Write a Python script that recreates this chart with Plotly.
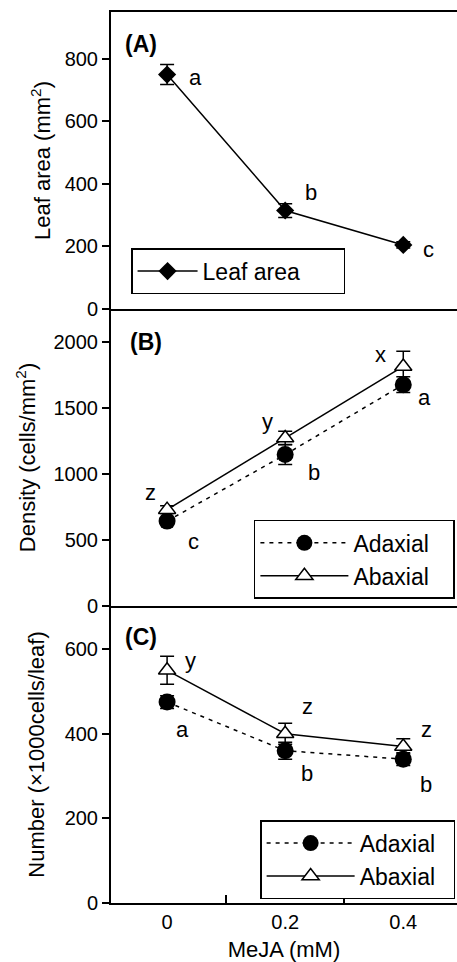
import plotly.graph_objects as go
from plotly.subplots import make_subplots

# ---- data ----
meja = [0, 0.2, 0.4]
x_ticklabels = ["0", "0.2", "0.4"]

leaf_area = [750, 315, 205]
leaf_area_err = [32, 22, 10]
leaf_letters = ["a", "b", "c"]

dens_adaxial = [643, 1147, 1677]
dens_adaxial_err = [25, 75, 60]
dens_abaxial = [730, 1273, 1815]
dens_abaxial_err = [30, 50, 115]
dens_adaxial_letters = ["c", "b", "a"]
dens_abaxial_letters = ["z", "y", "x"]

num_adaxial = [475, 360, 340]
num_adaxial_err = [15, 20, 15]
num_abaxial = [550, 400, 370]
num_abaxial_err = [33, 25, 18]
num_adaxial_letters = ["a", "b", "b"]
num_abaxial_letters = ["y", "z", "z"]

FONT = "Liberation Sans, Arial, Helvetica, sans-serif"
BLACK = "black"
NB = "\u00a0"  # trailing padding inside legend boxes

fig = make_subplots(rows=3, cols=1, shared_xaxes=True, vertical_spacing=0)

def err(vals):
    return dict(type="data", array=vals, visible=True, color=BLACK, thickness=1.5, width=7)

# Panel A
fig.add_trace(go.Scatter(x=meja, y=leaf_area, name="Leaf area" + NB * 6, mode="lines+markers",
                         line=dict(color=BLACK, width=1.5),
                         marker=dict(symbol="diamond", size=14, color=BLACK),
                         error_y=err(leaf_area_err), legend="legend", showlegend=True), row=1, col=1)
# Panel B
fig.add_trace(go.Scatter(x=meja, y=dens_adaxial, name="Adaxial" + NB * 3, mode="lines+markers",
                         line=dict(color=BLACK, width=1.5, dash="4px,5px"),
                         marker=dict(symbol="circle", size=17, color=BLACK),
                         error_y=err(dens_adaxial_err), legend="legend2", showlegend=True), row=2, col=1)
fig.add_trace(go.Scatter(x=meja, y=dens_abaxial, name="Abaxial" + NB * 3, mode="lines+markers",
                         line=dict(color=BLACK, width=1.5),
                         marker=dict(symbol="triangle-up", size=15, color="white",
                                     line=dict(color=BLACK, width=1.5)),
                         error_y=err(dens_abaxial_err), legend="legend2", showlegend=True), row=2, col=1)
# Panel C
fig.add_trace(go.Scatter(x=meja, y=num_adaxial, name="Adaxial" + NB * 2, mode="lines+markers",
                         line=dict(color=BLACK, width=1.5, dash="4px,5px"),
                         marker=dict(symbol="circle", size=17, color=BLACK),
                         error_y=err(num_adaxial_err), legend="legend3", showlegend=True), row=3, col=1)
fig.add_trace(go.Scatter(x=meja, y=num_abaxial, name="Abaxial" + NB * 2, mode="lines+markers",
                         line=dict(color=BLACK, width=1.5),
                         marker=dict(symbol="triangle-up", size=15, color="white",
                                     line=dict(color=BLACK, width=1.5)),
                         error_y=err(num_abaxial_err), legend="legend3", showlegend=True), row=3, col=1)

# significance letters (offsets in px)
def letters(xs, ys, labs, offs, xr, yr):
    for xv, yv, lab, (dx, dy) in zip(xs, ys, labs, offs):
        fig.add_annotation(x=xv, y=yv, xref=xr, yref=yr, text=lab, showarrow=False,
                           xshift=dx, yshift=dy, font=dict(family=FONT, size=22, color=BLACK))

letters(meja, leaf_area, leaf_letters, [(28, -3), (26, 18), (25, -5)], "x", "y")
letters(meja, dens_adaxial, dens_adaxial_letters, [(26, -20), (29, -18), (21, -13)], "x2", "y2")
letters(meja, dens_abaxial, dens_abaxial_letters, [(-17, 17), (-18, 16), (-23, 12)], "x2", "y2")
letters(meja, num_adaxial, num_adaxial_letters, [(15, -27), (22, -23), (23, -25)], "x3", "y3")
letters(meja, num_abaxial, num_abaxial_letters, [(23, 10), (22, 27), (23, 17)], "x3", "y3")

panel_labels = ["(A)", "(B)", "(C)"]
panel_pos = [(0.035, 0.892), (0.049, 0.889), (0.035, 0.895)]
for i, (lab, (px, py)) in enumerate(zip(panel_labels, panel_pos)):
    sfx = "" if i == 0 else str(i + 1)
    fig.add_annotation(x=px, y=py, xref=f"x{sfx} domain", yref=f"y{sfx} domain", text=f"<b>{lab}</b>",
                       showarrow=False, xanchor="left", yanchor="middle",
                       font=dict(family=FONT, size=23, color=BLACK))

xr = [-0.095, 0.491]
common_x = dict(range=xr, showgrid=False, zeroline=False, showline=True, linecolor=BLACK, linewidth=2,
                automargin=False)
fig.update_xaxes(**common_x)
fig.update_xaxes(row=1, col=1, mirror=True, showticklabels=False, ticks="")
fig.update_xaxes(row=2, col=1, showticklabels=False, ticks="")
fig.update_xaxes(row=3, col=1, tickvals=meja, ticktext=x_ticklabels, ticks="", showticklabels=True,
                 tickfont=dict(family=FONT, size=20, color=BLACK),
                 minor=dict(tickvals=[0.1, 0.3], ticks="inside", ticklen=8, tickwidth=2, tickcolor=BLACK),
                 title=dict(text="MeJA (mM)", font=dict(family=FONT, size=22, color=BLACK), standoff=19))

common_y = dict(showgrid=False, zeroline=False, showline=True, linecolor=BLACK, linewidth=2,
                ticks="outside", ticklen=7, tickwidth=2, tickcolor=BLACK, automargin=False,
                tickfont=dict(family=FONT, size=20, color=BLACK))
tfont = dict(family=FONT, size=22, color=BLACK)
fig.update_yaxes(row=1, col=1, range=[0, 950], tickvals=[0, 200, 400, 600, 800], **common_y,
                 title=dict(text="Leaf area (mm<sup>2</sup>)", font=tfont, standoff=8))
fig.update_yaxes(row=2, col=1, range=[0, 2250], tickvals=[0, 500, 1000, 1500, 2000], **common_y,
                 title=dict(text="Density (cells/mm<sup>2</sup>)", font=tfont, standoff=12))
fig.update_yaxes(row=3, col=1, range=[0, 702], tickvals=[0, 200, 400, 600], **common_y,
                 title=dict(text="Number (\u00d71000cells/leaf)", font=tfont, standoff=14))

leg = dict(bgcolor="white", bordercolor=BLACK, borderwidth=1.5, xanchor="left", yanchor="top",
           font=dict(family=FONT, size=23, color=BLACK), tracegroupgap=0)
fig.update_layout(
    width=457, height=962,
    margin=dict(l=111, r=0, t=12, b=59),
    paper_bgcolor="white", plot_bgcolor="white",
    font=dict(family=FONT, color=BLACK),
    showlegend=True,
    legend=dict(x=0.058, y=0.735, itemwidth=60, **leg),
    legend2=dict(x=0.413, y=0.430, itemwidth=88, **leg),
    legend3=dict(x=0.431, y=0.093, itemwidth=88, **leg),
)

fig.write_html("out.html", config={"displayModeBar": False},
               post_script="document.body.style.margin='0';")
